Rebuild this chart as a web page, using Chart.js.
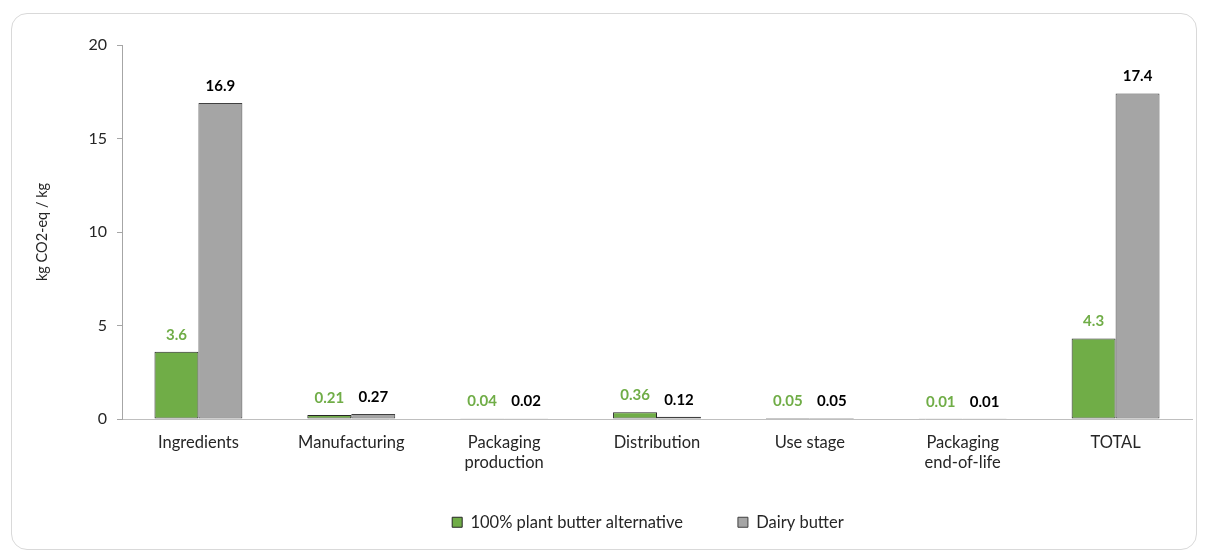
<!DOCTYPE html>
<html>
<head>
<meta charset="utf-8">
<script src="https://cdn.jsdelivr.net/npm/chart.js@4.4.1/dist/chart.umd.min.js"></script>
<style>
  html, body { margin: 0; padding: 0; background: #fff; }
  #frame {
    position: absolute; left: 11px; top: 13px; width: 1184px; height: 535px;
    border: 1px solid #d9d9d9; border-radius: 16px;
  }
  #wrap { position: absolute; left: 0; top: 0; width: 1205px; height: 558px; }
</style>
</head>
<body>
<div id="frame"></div>
<div id="wrap"><canvas id="co2Chart"></canvas></div>
<script>
const stages = ['Ingredients', 'Manufacturing', ['Packaging', 'production'], 'Distribution', 'Use stage', ['Packaging', 'end-of-life'], 'TOTAL'];
const plantValues = [3.6, 0.21, 0.04, 0.36, 0.05, 0.01, 4.3];
const dairyValues = [16.9, 0.27, 0.02, 0.12, 0.05, 0.01, 17.4];
const plantLabels = ['3.6', '0.21', '0.04', '0.36', '0.05', '0.01', '4.3'];
const dairyLabels = ['16.9', '0.27', '0.02', '0.12', '0.05', '0.01', '17.4'];
const yTicks = [0, 5, 10, 15, 20];

const FONT = 'Lato, "Open Sans", sans-serif';

// value labels above bars
const valueLabels = {
    id: 'valueLabels',
    afterDatasetsDraw(chart) {
        const ctx = chart.ctx;
        ctx.save();
        ctx.font = 'bold 15px ' + FONT;
        ctx.textAlign = 'center';
        ctx.textBaseline = 'middle';
        chart.data.datasets.forEach((ds, i) => {
            const meta = chart.getDatasetMeta(i);
            ctx.fillStyle = ds.labelColor;
            meta.data.forEach((bar, j) => {
                ctx.fillText(ds.valueText[j], bar.x, bar.y - 17);
            });
        });
        ctx.restore();
    }
};

// legend: keep the wide item spacing but make the box shorter and move it a bit
const legendTweak = {
    id: 'legendTweak',
    beforeLayout(chart) {
        const lg = chart.legend;
        if (lg && !lg._patched) {
            const origFit = lg.fit.bind(lg);
            const origDraw = lg.draw.bind(lg);
            lg.fit = function () { origFit(); this.height = 81; };
            lg.draw = function () {
                this.ctx.save();
                this.ctx.translate(35, -18);
                origDraw();
                this.ctx.restore();
            };
            lg._patched = true;
        }
    }
};

const ctx = document.getElementById('co2Chart').getContext('2d');
new Chart(ctx, {
    type: 'bar',
    data: {
        labels: stages,
        datasets: [
            {
                label: '100% plant butter alternative',
                data: plantValues,
                valueText: plantLabels,
                labelColor: '#70ad47',
                backgroundColor: '#70ad47',
                borderColor: '#262626',
                borderWidth: 1,
                borderSkipped: false
            },
            {
                label: 'Dairy butter',
                data: dairyValues,
                valueText: dairyLabels,
                labelColor: '#000000',
                backgroundColor: '#a5a5a5',
                borderColor: '#404040',
                borderWidth: 1,
                borderSkipped: false
            }
        ]
    },
    options: {
        responsive: true,
        maintainAspectRatio: false,
        animation: false,
        layout: { padding: { left: 34, right: 13, top: 45, bottom: 0 } },
        datasets: { bar: { barPercentage: 1, categoryPercentage: 0.575 } },
        scales: {
            x: {
                grid: { display: false },
                border: { display: true, color: '#bfbfbf', width: 1 },
                ticks: { color: '#262626', padding: 6, font: { family: FONT, size: 16.5 } },
                afterFit(scale) { scale.height = 58; }
            },
            y: {
                min: 0,
                max: 20,
                afterBuildTicks(scale) { scale.ticks = yTicks.map(v => ({ value: v })); },
                grid: { drawOnChartArea: false, drawTicks: true, tickLength: 5, color: '#a6a6a6' },
                border: { display: true, color: '#a6a6a6', width: 1 },
                ticks: { color: '#262626', padding: 10, font: { family: FONT, size: 16 } },
                title: {
                    display: true,
                    text: 'kg CO2-eq / kg',
                    color: '#262626',
                    padding: 0,
                    font: { family: FONT, size: 14.5 }
                },
                afterFit(scale) { scale.width = 88; }
            }
        },
        plugins: {
            legend: {
                position: 'bottom',
                labels: {
                    boxWidth: 10,
                    boxHeight: 10,
                    padding: 55,
                    color: '#262626',
                    font: { family: FONT, size: 16.5 }
                }
            },
            tooltip: { enabled: false }
        }
    },
    plugins: [valueLabels, legendTweak]
});
</script>
</body>
</html>
